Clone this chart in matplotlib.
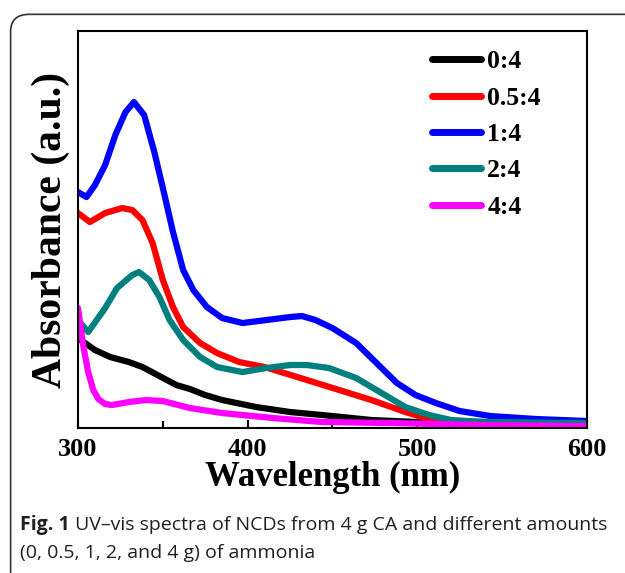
import matplotlib
matplotlib.use("Agg")
from matplotlib import pyplot as plt
from matplotlib.patches import FancyBboxPatch
from matplotlib.ticker import MultipleLocator

# absorbance curves (a.u.)
wl_black = [300, 310, 319, 330, 338, 348, 358, 366, 375, 385, 405, 425, 444, 473, 500, 540, 600]
abs_black = [0.90, 0.78, 0.71, 0.66, 0.61, 0.52, 0.43, 0.39, 0.33, 0.28, 0.21, 0.16, 0.13, 0.08, 0.06, 0.04, 0.03]

wl_red = [300, 307, 316, 326, 332, 338, 344, 350, 356, 362, 372, 382, 395, 410, 435, 454, 473, 493, 503, 515, 540, 600]
abs_red = [2.15, 2.06, 2.15, 2.20, 2.18, 2.08, 1.85, 1.48, 1.21, 1.01, 0.85, 0.75, 0.66, 0.61, 0.48, 0.38, 0.28, 0.16, 0.11, 0.07, 0.06, 0.05]

wl_blue = [300, 305, 310, 316, 322, 328, 333, 339, 345, 351, 356, 362, 368, 376, 385, 397, 411, 425, 432, 440, 450, 464, 476, 488, 499, 511, 525, 543, 570, 600]
abs_blue = [2.36, 2.31, 2.43, 2.63, 2.93, 3.16, 3.26, 3.13, 2.76, 2.33, 1.96, 1.58, 1.38, 1.21, 1.10, 1.05, 1.08, 1.11, 1.12, 1.08, 1.00, 0.85, 0.65, 0.45, 0.33, 0.25, 0.17, 0.12, 0.09, 0.07]

wl_teal = [300, 306, 316, 323, 332, 336, 342, 348, 354, 362, 372, 382, 397, 411, 425, 435, 448, 464, 479, 493, 507, 520, 540, 600]
abs_teal = [1.08, 0.96, 1.20, 1.40, 1.53, 1.56, 1.48, 1.31, 1.08, 0.88, 0.71, 0.61, 0.56, 0.60, 0.63, 0.63, 0.60, 0.50, 0.35, 0.21, 0.13, 0.08, 0.06, 0.05]

wl_pink = [300, 303, 306, 309, 312, 316, 320, 330, 340, 350, 366, 385, 415, 444, 484, 540, 600]
abs_pink = [1.20, 0.83, 0.56, 0.38, 0.29, 0.24, 0.23, 0.26, 0.28, 0.27, 0.20, 0.15, 0.10, 0.06, 0.05, 0.03, 0.02]

labels = ["0:4", "0.5:4", "1:4", "2:4", "4:4"]
colors = ["black", "#ff0000", "#0000ff", "#007f7f", "#ff00ff"]

serif = "Liberation Serif"

fig = plt.figure(figsize=(6.25, 5.73), dpi=100)

# rounded panel frame
frame = FancyBboxPatch((0.017, -0.2), 1.2, 1.175, boxstyle="round,pad=0,rounding_size=0.03",
                       transform=fig.transFigure, facecolor="none", edgecolor="#333333",
                       linewidth=1.2, clip_on=False)
fig.patches.append(frame)

ax = fig.add_axes([0.1248, 0.253, 0.8142, 0.6928])
series = [(wl_black, abs_black), (wl_red, abs_red), (wl_blue, abs_blue),
          (wl_teal, abs_teal), (wl_pink, abs_pink)]
for (x, y), lab, c in zip(series, labels, colors):
    ax.plot(x, y, color=c, lw=4.5, label=lab, solid_capstyle="round", solid_joinstyle="round")

ax.set_xlim(300, 600)
ax.set_ylim(0, 3.97)
ax.set_yticks([])
ax.xaxis.set_major_locator(MultipleLocator(100))
ax.xaxis.set_minor_locator(MultipleLocator(50))
ax.tick_params(axis="x", which="both", direction="in", top=False, width=1.5)
ax.tick_params(axis="x", which="major", length=6, pad=7)
ax.tick_params(axis="x", which="minor", length=5)
for s in ax.spines.values():
    s.set_linewidth(1.5)
for t in ax.get_xticklabels():
    t.set_fontfamily(serif)
    t.set_fontweight("bold")
    t.set_fontsize(19)

ax.set_xlabel("Wavelength (nm)", fontfamily=serif, fontweight="bold", fontsize=25, labelpad=0)
ax.set_ylabel("Absorbance (a.u.)", fontfamily=serif, fontweight="bold", fontsize=30, labelpad=6)

leg = ax.legend(loc="upper right", bbox_to_anchor=(0.955, 1.01), frameon=False,
                prop={"family": serif, "weight": "bold", "size": 18.5},
                handlelength=1.9, handletextpad=0.25, labelspacing=0.52)
for h in leg.get_lines():
    h.set_linewidth(5)
    h.set_solid_capstyle("round")

# caption
cap_color = "#231f20"
fig.canvas.draw()
t1 = fig.text(0.032, 0.075, "Fig. 1", fontfamily="Open Sans", fontweight="bold",
              fontsize=14, color=cap_color)
fig.canvas.draw()
bb = t1.get_window_extent()
x2 = fig.transFigure.inverted().transform((bb.x1, bb.y0))[0]
fig.text(x2, 0.075, " UV\u2013vis spectra of NCDs from 4 g CA and different amounts",
         fontfamily="Open Sans", fontsize=14, color=cap_color)
fig.text(0.032, 0.027, "(0, 0.5, 1, 2, and 4 g) of ammonia", fontfamily="Open Sans",
         fontsize=14, color=cap_color)

fig.savefig("out.png", dpi=100)
